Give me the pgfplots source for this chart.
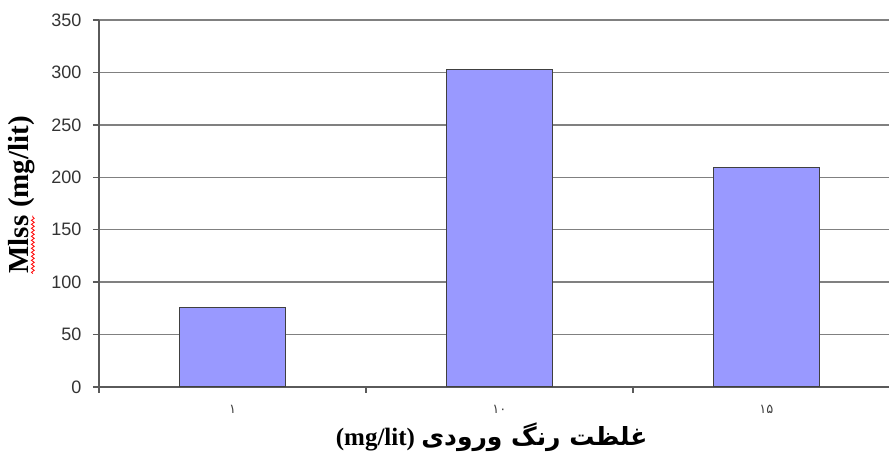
\documentclass[border=0pt]{standalone}
\usepackage{pgfplots}
\pgfplotsset{compat=1.18}
\usepackage{fontspec}
\usetikzlibrary{decorations.pathmorphing}
\setmainfont{Liberation Serif}
\newfontfamily\arial{Liberation Sans}
\newfontfamily\arabicfont[Script=Arabic]{DejaVu Sans}
\TeXXeTstate=1
\definecolor{barfill}{HTML}{9999FF}
\definecolor{gridc}{HTML}{808080}
\newcommand{\squig}[1]{\tikz[baseline=(m.base)]{\node[inner sep=0pt, outer sep=0pt](m){#1};
  \draw[red, line width=0.8pt, decorate, decoration={snake, amplitude=1.4pt, segment length=4pt}] ([yshift=-4pt]m.base west) -- ([yshift=-4pt]m.base east);}}
\begin{document}
\begin{tikzpicture}
\useasboundingbox (-99pt,-67pt) rectangle (790pt,387pt);
\begin{axis}[
  scale only axis, width=790pt, height=367pt,
  xmin=-0.5, xmax=2.459, ymin=0, ymax=350,
  ytick={0,50,...,350},
  xtick={0,1,2},
  xticklabels={۱,۱۰,۱۵},
  major x tick style={draw=none},
  minor xtick={-0.5,0.5,1.5},
  minor x tick style={draw=gridc!70!black, line width=1.3pt},
  axis x line=bottom, axis y line=left,
  axis line style={-, draw=gridc!70!black, line width=1.4pt},
  ymajorgrids, grid style={draw=gridc, line width=1.4pt},
  tick align=outside, major tick length=6pt, minor tick length=6pt,
  major y tick style={draw=gridc!70!black, line width=1.3pt},
  /pgf/number format/assume math mode=true,
  yticklabel style={font=\arial\fontsize{18}{18}\selectfont, text=black!80, xshift=-8pt},
  xticklabel style={font=\arabicfont\fontsize{13}{13}\selectfont, text=black!75, yshift=-9pt},
  xlabel={{\bfseries (mg/lit)} {\arabicfont\bfseries\beginR غلظت رنگ ورودی\endR}},
  ylabel={\squig{Mlss} (mg/lit)},
  every axis x label/.style={at={(axis description cs:0.497,0)}, anchor=center, yshift=-50pt, font=\fontsize{25}{25}\selectfont},
  every axis y label/.style={at={(axis description cs:-0.0975,0.523)}, rotate=90, anchor=center, font=\bfseries\fontsize{29}{29}\selectfont},
]
\addplot[ybar, bar width=0.397, fill=barfill, draw=black!75, line width=1pt] coordinates {(0,76) (1,303) (2,209)};
\end{axis}
\end{tikzpicture}
\end{document}
